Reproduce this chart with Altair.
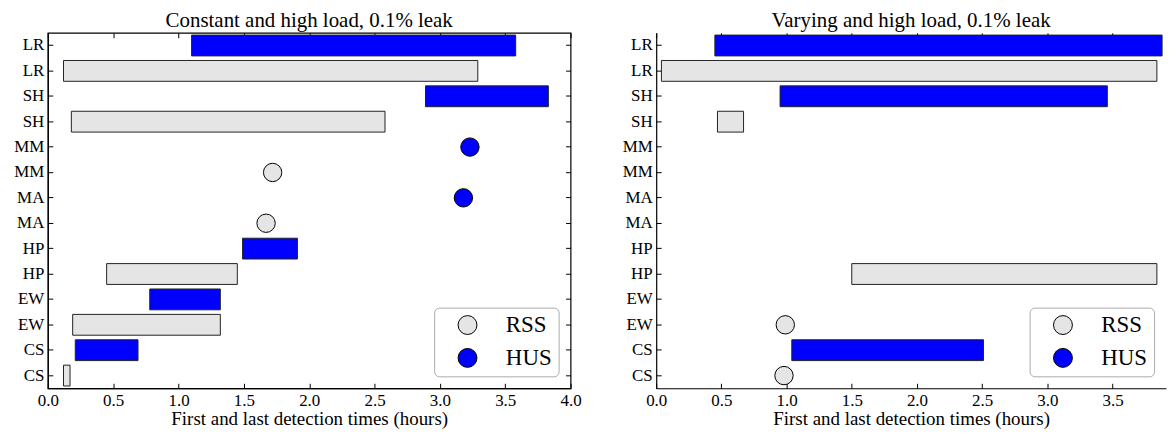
import altair as alt
import pandas as pd

# rows, bottom to top
rows = ["CS", "CS", "EW", "EW", "HP", "HP", "MA", "MA", "MM", "MM", "SH", "SH", "LR", "LR"]
methods = ["RSS", "HUS"] * 7

# Constant and high load (first / last detection, hours); equal values = single detection
left_start = [0.12, 0.21, 0.19, 0.78, 0.45, 1.49, 1.67, 3.18, 1.72, 3.23, 0.18, 2.89, 0.12, 1.10]
left_end = [0.17, 0.69, 1.32, 1.32, 1.45, 1.91, 1.67, 3.18, 1.72, 3.23, 2.58, 3.83, 3.29, 3.58]

# Varying and high load
right_start = [0.98, 1.04, 0.99, None, 1.50, None, None, None, None, None, 0.47, 0.95, 0.04, 0.45]
right_end = [0.98, 2.51, 0.99, None, 3.84, None, None, None, None, None, 0.67, 3.46, 3.84, 3.88]

x_ticks = [0, 0.5, 1, 1.5, 2, 2.5, 3, 3.5, 4]
FONT = "Liberation Serif"
keys = [f"{r} {i:02d}" for i, r in enumerate(rows)]
keys_top_down = keys[::-1]


def make_df(starts, ends):
    return pd.DataFrame({"row": keys, "method": methods, "start": starts, "end": ends})


def tick_axis(orient, values=None):
    kw = dict(orient=orient, labels=False, domain=False, grid=False, tickSize=5,
              offset=-5, minExtent=0, maxExtent=0, title=None)
    if values is not None:
        kw["values"] = values
    return alt.Axis(**kw)


def panel(df, title, xmax, width, right_ticks):
    xs = alt.Scale(domain=[0, xmax], nice=False, zero=False)
    ys = alt.Scale(domain=keys_top_down, paddingInner=0.18, paddingOuter=0.09)
    fs = alt.Scale(domain=["RSS", "HUS"], range=["#e5e5e5", "#0000ff"])
    legend = alt.Legend(title=None, orient="bottom-right", offset=12,
                        padding=6, strokeColor="#aaaaaa", cornerRadius=5,
                        fillColor="white", labelFont=FONT, labelFontSize=23,
                        labelColor="black", symbolSize=360, symbolType="circle",
                        symbolStrokeColor="black", symbolStrokeWidth=1,
                        symbolFillColor="#e5e5e5",
                        rowPadding=9, labelOffset=27, symbolOffset=16,
                        symbolOpacity=1)
    base = alt.Chart(df).transform_filter("isValid(datum.start)")
    bars = base.transform_filter("datum.start != datum.end").mark_bar(
        stroke="#222222", strokeWidth=1
    ).encode(
        x=alt.X("start:Q", scale=xs, title="First and last detection times (hours)",
                axis=alt.Axis(orient="bottom", values=x_ticks, format=".1f", grid=False,
                              ticks=False, labelPadding=4, labelFontSize=17,
                              titleFontSize=19, titleFontWeight="normal",
                              titlePadding=1, labelFlush=False)),
        x2="end:Q",
        y=alt.Y("row:N", scale=ys, sort=None, title=None,
                axis=alt.Axis(orient="left", labelExpr="slice(datum.label, 0, 2)",
                              ticks=False, labelPadding=4, labelFontSize=17,
                              minExtent=35, maxExtent=35, grid=False)),
        fill=alt.Fill("method:N", scale=fs, legend=legend),
    )
    pts = base.transform_filter("datum.start == datum.end").mark_point(
        filled=True, shape="circle", size=340, stroke="black", strokeWidth=1, opacity=1
    ).encode(
        x=alt.X("start:Q", scale=xs, title=None, axis=tick_axis("top", x_ticks)),
        y=alt.Y("row:N", scale=ys, sort=None, title=None,
                axis=tick_axis("right") if right_ticks else None),
        fill=alt.Fill("method:N", scale=fs, legend=legend),
    )
    ghost = base.mark_point(opacity=0).encode(
        x=alt.X("start:Q", scale=xs, title=None, axis=tick_axis("bottom", x_ticks)),
        y=alt.Y("row:N", scale=ys, sort=None, title=None, axis=tick_axis("left")),
    )
    props = dict(
        width=width, height=357,
        title=alt.TitleParams(title, font=FONT, fontSize=21, fontWeight="normal",
                              offset=-3, dy=-4, color="black"),
    )
    if not right_ticks:
        props["view"] = alt.ViewBackground(stroke="transparent")
    return alt.layer(bars, pts, ghost).resolve_axis(
        x="independent", y="independent").properties(**props)


left = panel(make_df(left_start, left_end), "Constant and high load, 0.1% leak", 4.0, 525, True)
right = panel(make_df(right_start, right_end), "Varying and high load, 0.1% leak", 3.91, 512, False)

chart = alt.hconcat(left, right, spacing=38).resolve_scale(
    fill="independent"
).resolve_legend(fill="independent").configure(
    font=FONT, padding={"left": 4, "top": 0, "right": 0, "bottom": 0}
).configure_axis(
    labelFont=FONT, titleFont=FONT, labelColor="black", titleColor="black",
    domainColor="black", tickColor="black", domainWidth=1.2, tickWidth=1
).configure_legend(
    labelFont=FONT
).configure_view(stroke="black", strokeWidth=1.2)

chart.save("out.html", embed_options={"renderer": "svg", "actions": False})
